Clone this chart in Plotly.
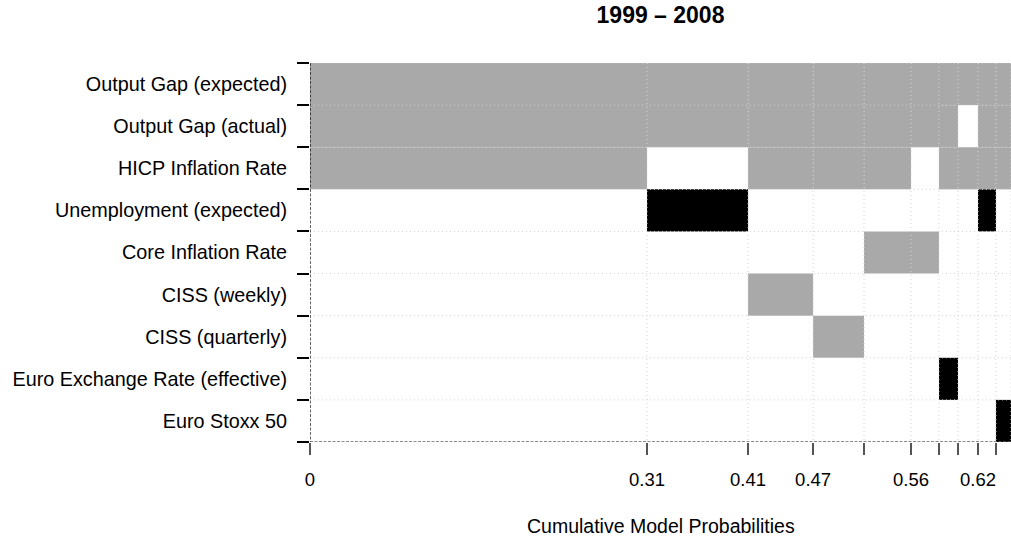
import numpy as np
import plotly.graph_objects as go

# ---- data ----
variables = [
    "Output Gap (expected)",
    "Output Gap (actual)",
    "HICP Inflation Rate",
    "Unemployment (expected)",
    "Core Inflation Rate",
    "CISS (weekly)",
    "CISS (quarterly)",
    "Euro Exchange Rate (effective)",
    "Euro Stoxx 50",
]
model_probs = [0.3135, 0.0940, 0.0605, 0.0474, 0.0437, 0.0260, 0.0177, 0.0186, 0.0167, 0.0140]
# inclusion sign per variable (rows) and model (columns): 1 positive, -1 negative, 0 excluded
og_expected  = [1, 1, 1, 1, 1, 1, 1, 1, 1, 1]
og_actual    = [1, 1, 1, 1, 1, 1, 1, 0, 1, 1]
hicp         = [1, 0, 1, 1, 1, 0, 1, 1, 1, 1]
unemployment = [0, -1, 0, 0, 0, 0, 0, 0, -1, 0]
core_infl    = [0, 0, 0, 0, 1, 1, 0, 0, 0, 0]
ciss_weekly  = [0, 0, 1, 0, 0, 0, 0, 0, 0, 0]
ciss_quart   = [0, 0, 0, 1, 0, 0, 0, 0, 0, 0]
euro_fx      = [0, 0, 0, 0, 0, 0, -1, 0, 0, 0]
euro_stoxx   = [0, 0, 0, 0, 0, 0, 0, 0, 0, -1]
tick_labels = ["0", "0.31", "0.41", "0.47", "", "0.56", "", "", "0.62", ""]
title_text = "1999 – 2008"
x_title = "Cumulative Model Probabilities"

signs = [og_expected, og_actual, hicp, unemployment, core_infl,
         ciss_weekly, ciss_quart, euro_fx, euro_stoxx]

cum = np.concatenate([[0.0], np.cumsum(model_probs)])
starts = cum[:-1]
total = cum[-1]
nrow = len(variables)

POS = "#A9A9A9"
NEG = "#000000"
GRID = "#D3D3D3"
FONT = "Liberation Sans, Arial, sans-serif"

fig = go.Figure()

for i, row in enumerate(signs):
    for j, s in enumerate(row):
        if s == 0:
            continue
        fig.add_trace(go.Bar(
            orientation="h",
            y=[i + 0.5], x=[model_probs[j]], base=[starts[j]], width=[1.0],
            marker=dict(color=POS if s > 0 else NEG, line=dict(width=0)),
            showlegend=False, hoverinfo="skip",
        ))

# dotted grid lines on top of tiles
gx, gy = [], []
for c in cum[1:]:
    gx += [c, c, None]
    gy += [0, nrow, None]
for r in range(0, nrow):
    gx += [0, total, None]
    gy += [r, r, None]
fig.add_trace(go.Scatter(x=gx, y=gy, mode="lines",
                         line=dict(color=GRID, width=1, dash="1px,3px"),
                         showlegend=False, hoverinfo="skip"))
# left and bottom dashed axis lines
fig.add_trace(go.Scatter(x=[0, 0], y=[0, nrow], mode="lines",
                         line=dict(color="#000000", width=1.2, dash="3px,1.5px"),
                         showlegend=False, hoverinfo="skip"))
fig.add_trace(go.Scatter(x=[0, total], y=[nrow, nrow], mode="lines",
                         line=dict(color="#666666", width=1.5, dash="3px,1.5px"),
                         showlegend=False, hoverinfo="skip"))

fig.update_layout(
    width=1011, height=542,
    margin=dict(l=310, r=0, t=63, b=100),
    plot_bgcolor="white", paper_bgcolor="white",
    barmode="overlay",
    font=dict(family=FONT, size=19.8, color="black"),
    title=dict(text="<b>" + title_text + "</b>", x=0.5, xref="paper",
               y=1 - 15 / 542, yref="container", yanchor="middle", xanchor="center",
               font=dict(size=23, family=FONT, color="black")),
    xaxis=dict(range=[0, total], tickvals=list(cum[:-1]), ticktext=tick_labels,
               ticks="outside", ticklen=12, tickcolor="#555555", tickwidth=1.5,
               showgrid=False, zeroline=False, showline=False,
               ticklabelstandoff=9, tickfont=dict(size=18.5)),
    yaxis=dict(range=[nrow, 0], tickvals=[r + 0.5 for r in range(nrow)],
               ticktext=variables, ticks="", showgrid=False, zeroline=False,
               showline=False, ticklabelstandoff=22,
               minor=dict(tickvals=list(range(nrow + 1)), ticks="outside",
                          ticklen=12, tickcolor="black", tickwidth=1.5)),
    annotations=[dict(text=x_title, x=0.5, xref="paper", y=-84 / 379, yref="paper",
                      xanchor="center", yanchor="middle", showarrow=False,
                      font=dict(size=19.5, family=FONT, color="black"))],
)

fig.write_html("out.html")
